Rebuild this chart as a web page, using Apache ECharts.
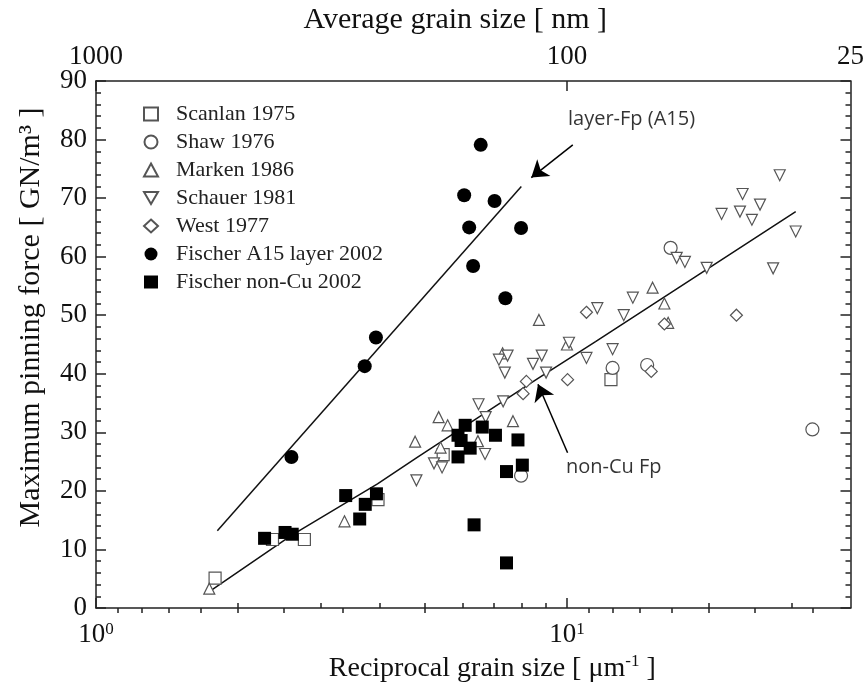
<!DOCTYPE html>
<html>
<head>
<meta charset="utf-8">
<script src="https://cdn.jsdelivr.net/npm/echarts@6/dist/echarts.min.js"></script>
<style>
  html, body { margin: 0; padding: 0; background: #fff; }
  #chart { width: 867px; height: 688px; }
</style>
</head>
<body>
<div id="chart"></div>
<script>
// data: [reciprocal grain size (1/um), Fp (GN/m3)]
const scanlan = [[1.79, 5.1], [2.37, 11.7], [2.77, 11.7], [3.97, 18.5], [5.46, 26.2], [12.4, 39.0]];
const shaw = [[7.99, 22.6], [12.5, 41.0], [14.8, 41.5], [16.6, 61.5], [33.2, 30.5]];
const marken = [[1.74, 3.3], [3.37, 14.8], [4.76, 28.4], [5.34, 32.6], [5.58, 31.2], [5.39, 27.4],
    [6.47, 28.5], [7.68, 31.9], [7.3, 43.5], [10.0, 45.0], [8.72, 49.2], [15.2, 54.7], [16.1, 52.0], [16.4, 48.7]];
const schauer = [[4.79, 21.8], [5.22, 24.7], [5.43, 24.0], [6.7, 26.3], [6.49, 34.8], [6.72, 32.6],
    [7.32, 35.3], [7.17, 42.4], [7.38, 40.2], [7.48, 43.1], [8.47, 41.7], [8.84, 43.1], [9.03, 40.2],
    [10.1, 45.3], [11.0, 42.7], [11.6, 51.2], [12.5, 44.2], [13.2, 50.0], [13.8, 53.0], [17.1, 59.8],
    [17.8, 59.1], [19.8, 58.1], [21.3, 67.3], [23.3, 67.7], [23.6, 70.7], [24.7, 66.3], [25.7, 68.9],
    [27.4, 58.0], [28.3, 73.9], [30.6, 64.3]];
const west = [[8.07, 36.6], [8.2, 38.7], [10.03, 39.0], [11.0, 50.5], [15.1, 40.4], [16.1, 48.5], [22.9, 50.0]];
const fischerA15 = [[2.6, 25.8], [3.72, 41.3], [3.93, 46.2], [6.05, 70.5], [6.56, 79.1], [7.02, 69.5],
    [6.2, 65.0], [7.99, 64.9], [6.32, 58.4], [7.4, 52.9]];
const fischerNonCu = [[2.28, 11.9], [2.52, 12.9], [2.61, 12.6], [3.39, 19.2], [3.63, 15.2], [3.73, 17.7],
    [3.94, 19.5], [5.87, 29.5], [5.96, 28.6], [6.08, 31.2], [6.23, 27.3], [5.87, 25.8], [6.61, 30.9],
    [7.05, 29.5], [7.87, 28.7], [8.04, 24.4], [7.44, 23.3], [6.35, 14.2], [7.44, 7.7]];

// fitted lines
const layerFit = [[1.81, 13.2], [8.0, 72.0]];
const nonCuFit = [[1.74, 2.8], [2.6, 12.4], [3.96, 21.2], [4.8, 25.7], [8.6, 39.0], [11.5, 45.5], [30.6, 67.7]];

// annotations
const layerArrow = [[10.29, 79.1], [8.40, 73.5]];
const nonCuArrow = [[10.03, 26.5], [8.68, 38.2]];
const notes = [{ name: 'layer-Fp (A15)', value: [10.05, 83.5] }, { name: 'non-Cu Fp', value: [9.95, 24.1] }];

// axis ticks
const bottomMajor = [1, 10];
const bottomMinor = [2, 3, 4, 5, 6, 7, 8, 9, 20, 30];
const topLabels = [1000, 100, 25];
const topMinorNm = [900, 800, 700, 600, 500, 400, 300, 200, 90, 80, 70, 60, 50, 40, 30];

const serif = 'Liberation Serif';
const axisColor = '#222';
const openColor = '#555';
const downTriangle = 'path://M0,0 L10,0 L5,8.66 Z';

const chart = echarts.init(document.getElementById('chart'));

const logAxis = (extra) => Object.assign({
    type: 'log',
    logBase: 10,
    min: 1,
    max: 40,
    splitLine: { show: false },
    axisLine: { show: false },
    axisLabel: { show: false },
    axisTick: { show: true, inside: true, length: 5, lineStyle: { color: axisColor, width: 1.5 } },
}, extra);

const yAx = (pos, labels) => ({
    type: 'value',
    position: pos,
    min: 0,
    max: 90,
    interval: 10,
    splitLine: { show: false },
    axisLine: { show: true, onZero: false, lineStyle: { color: axisColor, width: 1.5 } },
    axisTick: { inside: true, length: 10, lineStyle: { color: axisColor, width: 1.5 } },
    minorTick: { show: true, splitNumber: 5, length: 5, lineStyle: { color: axisColor, width: 1.5 } },
    axisLabel: { show: labels, fontFamily: serif, fontSize: 27, color: '#111', margin: 9 },
});

const openScatter = (name, data, symbol, size) => ({
    name: name,
    type: 'scatter',
    data: data,
    symbol: symbol,
    symbolSize: size,
    itemStyle: { color: '#fff', borderColor: openColor, borderWidth: 1.2, opacity: 1 },
    z: 3,
});

const arrow = (pts) => ({
    silent: true,
    symbol: ['none', 'arrow'],
    symbolSize: 16,
    lineStyle: { color: '#000', width: 1.5, type: 'solid', opacity: 1 },
    itemStyle: { color: '#000' },
    label: { show: false },
    emphasis: { disabled: true },
    data: [[{ coord: pts[0] }, { coord: pts[1] }]],
});

chart.setOption({
    animation: false,
    backgroundColor: '#fff',
    grid: { left: 96, right: 12, top: 78, bottom: 80 },
    legend: {
        orient: 'vertical',
        left: 138,
        top: 98,
        itemWidth: 14,
        itemHeight: 13,
        itemGap: 6,
        textStyle: { fontFamily: serif, fontSize: 22, color: '#222', padding: [0, 0, 0, 13] },
        data: ['Scanlan 1975', 'Shaw 1976', 'Marken 1986',
            { name: 'Schauer 1981', icon: downTriangle },
            'West 1977', 'Fischer A15 layer 2002', 'Fischer non-Cu 2002'],
    },
    xAxis: [
        logAxis({
            position: 'bottom',
            axisLine: { show: true, onZero: false, lineStyle: { color: axisColor, width: 1.5 } },
            axisTick: { show: true, inside: true, length: 10, customValues: bottomMajor, lineStyle: { color: axisColor, width: 1.5 } },
            axisLabel: {
                show: true,
                customValues: bottomMajor,
                margin: 13,
                formatter: (v) => '{b|10}{s|' + Math.round(Math.log10(v)) + '}',
                rich: {
                    b: { fontFamily: serif, fontSize: 27, color: '#111' },
                    s: { fontFamily: serif, fontSize: 17, color: '#111', verticalAlign: 'top', padding: [0, 0, 11, 0] },
                },
            },
            name: '{t|Reciprocal grain size [ μm}{s|-1}{t| ]}',
            nameLocation: 'middle',
            nameGap: 42,
            nameTextStyle: {
                padding: [0, 0, 0, 38],
                rich: {
                    t: { fontFamily: serif, fontSize: 28, color: '#111' },
                    s: { fontFamily: serif, fontSize: 17, color: '#111', padding: [0, 0, 13, 0] },
                },
            },
        }),
        logAxis({ position: 'bottom', axisTick: { show: true, inside: true, length: 5, customValues: bottomMinor, lineStyle: { color: axisColor, width: 1.5 } } }),
        logAxis({
            position: 'top',
            axisLine: { show: true, onZero: false, lineStyle: { color: axisColor, width: 1.5 } },
            axisTick: { show: true, inside: true, length: 10, customValues: bottomMajor, lineStyle: { color: axisColor, width: 1.5 } },
            axisLabel: {
                show: true,
                customValues: topLabels.map((nm) => 1000 / nm),
                margin: 11,
                fontFamily: serif,
                fontSize: 27,
                color: '#111',
                formatter: (v) => String(Math.round(1000 / v)),
            },
            name: 'Average grain size [ nm ]',
            nameLocation: 'middle',
            nameGap: 46,
            nameTextStyle: { fontFamily: serif, fontSize: 30, color: '#111', padding: [0, 36, 0, 0] },
        }),
        logAxis({ position: 'top', axisTick: { show: true, inside: true, length: 5, customValues: topMinorNm.map((nm) => 1000 / nm), lineStyle: { color: axisColor, width: 1.5 } } }),
    ],
    yAxis: [
        Object.assign(yAx('left', true), {
            name: 'Maximum pinning force [ GN/m³ ]',
            nameLocation: 'middle',
            nameGap: 50,
            nameTextStyle: { fontFamily: serif, fontSize: 30, color: '#111', padding: [0, 0, 0, 54] },
        }),
        yAx('right', false),
    ],
    series: [
        openScatter('Scanlan 1975', scanlan, 'rect', 12),
        openScatter('Shaw 1976', shaw, 'circle', 13),
        openScatter('Marken 1986', marken, 'triangle', 11),
        openScatter('Schauer 1981', schauer, downTriangle, 11),
        openScatter('West 1977', west, 'diamond', 12),
        {
            name: 'Fischer A15 layer 2002',
            type: 'scatter',
            data: fischerA15,
            symbol: 'circle',
            symbolSize: 14,
            itemStyle: { color: '#000', opacity: 1 },
            z: 4,
        },
        {
            name: 'Fischer non-Cu 2002',
            type: 'scatter',
            data: fischerNonCu,
            symbol: 'rect',
            symbolSize: 13,
            itemStyle: { color: '#000', opacity: 1 },
            z: 4,
        },
        {
            name: 'layerFit',
            type: 'line',
            data: layerFit,
            showSymbol: false,
            symbol: 'none',
            lineStyle: { color: '#111', width: 1.5 },
            z: 2,
            markLine: arrow(layerArrow),
        },
        {
            name: 'nonCuFit',
            type: 'line',
            data: nonCuFit,
            showSymbol: false,
            symbol: 'none',
            lineStyle: { color: '#111', width: 1.5 },
            z: 2,
            markLine: arrow(nonCuArrow),
        },
        {
            name: 'notes',
            type: 'scatter',
            data: notes,
            symbolSize: 0,
            silent: true,
            label: {
                show: true,
                position: 'right',
                distance: 0,
                formatter: (p) => p.name,
                fontFamily: 'Open Sans',
                fontSize: 20,
                color: '#000',
            },
        },
    ],
});
</script>
</body>
</html>
